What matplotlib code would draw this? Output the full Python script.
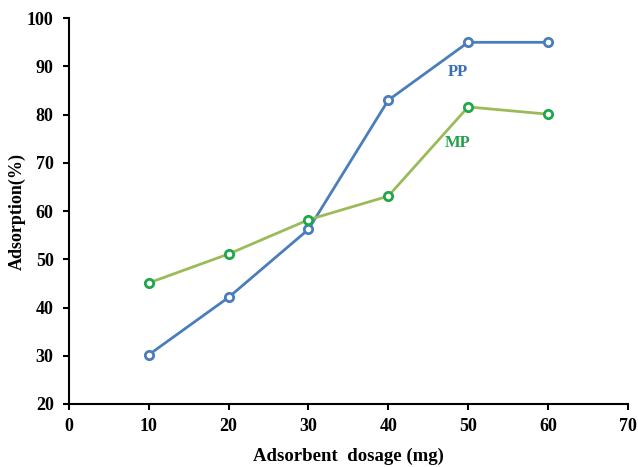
import matplotlib
matplotlib.use("Agg")
import matplotlib.pyplot as plt

# adsorbent dosage (mg)
dosage = [10, 20, 30, 40, 50, 60]
pp = [30.2, 42.1, 56.2, 83.0, 95.0, 95.0]
mp = [45.1, 51.1, 58.2, 63.1, 81.6, 80.1]

plt.rcParams['font.family'] = ['Liberation Serif', 'DejaVu Serif']
plt.rcParams['font.weight'] = 'bold'

fig = plt.figure(figsize=(6.38, 4.67), dpi=100)
ax = fig.add_axes([0.108, 0.135, 0.876, 0.826])

ax.plot(dosage, pp, color='#4a7ebb', lw=2, marker='o', ms=6,
        mfc='white', mec='#4a7ebb', mew=2)
ax.plot(dosage, mp, color='#9bbb59', lw=2, marker='o', ms=6,
        mfc='white', mec='#1ea84a', mew=2)

# series labels next to the lines
ax.text(48.7, 88.8, 'PP', color='#3a6fb0', fontsize=12, fontweight='bold',
        ha='center', va='center')
ax.text(48.7, 74.1, 'MP', color='#22a04b', fontsize=12, fontweight='bold',
        ha='center', va='center')

ax.set_xlim(0, 70)
ax.set_ylim(20, 100)
ax.set_xticks(range(0, 71, 10))
ax.set_yticks(range(20, 101, 10))
ax.spines['top'].set_visible(False)
ax.spines['right'].set_visible(False)
for s in ['left', 'bottom']:
    ax.spines[s].set_linewidth(1.5)
ax.tick_params(direction='out', length=4, width=1.5, labelsize=13, pad=6)
ax.tick_params(axis='y', pad=7)
for lab in ax.get_xticklabels() + ax.get_yticklabels():
    lab.set_fontweight('bold')

ax.set_xlabel('Adsorbent  dosage (mg)', fontsize=13.5, fontweight='bold', labelpad=9.5)
ax.set_ylabel('Adsorption(%)', fontsize=13, fontweight='bold')
ax.yaxis.set_label_coords(-0.077, 0.5)

fig.savefig('out.png', dpi=100)
